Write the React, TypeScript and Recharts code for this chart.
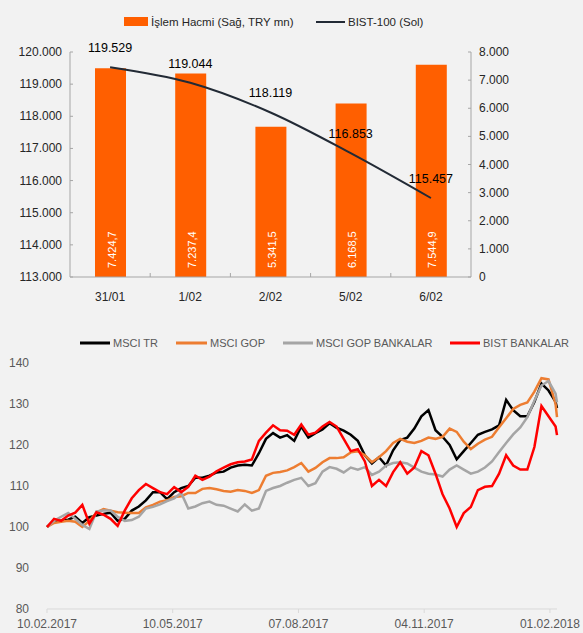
import React from 'react';
import { ComposedChart, Bar, Line, XAxis, YAxis, LabelList, LineChart } from 'recharts';

// ---------- top chart data ----------
const topCategories = ['31/01', '1/02', '2/02', '5/02', '6/02'];
const volumeValues = [7424.7, 7237.4, 5341.5, 6168.5, 7544.9];
const bistValues = [119529, 119044, 118119, 116853, 115457];
const leftTicks = [113000, 114000, 115000, 116000, 117000, 118000, 119000, 120000];
const rightTicks = [0, 1000, 2000, 3000, 4000, 5000, 6000, 7000, 8000];

// ---------- bottom chart data ----------
const seriesDays = [0, 5, 10, 15, 20, 25, 30, 35, 40, 45, 50, 55, 60, 65, 70, 75, 80, 85, 90, 95,
  100, 105, 110, 115, 120, 125, 130, 135, 140, 145, 150, 155, 160, 165, 170, 175, 180, 185, 190, 195,
  200, 205, 210, 215, 220, 225, 230, 235, 240, 245, 250, 255, 260, 265, 270, 275, 280, 285, 290, 295,
  300, 305, 310, 315, 320, 325, 330, 335, 340, 345, 350, 355, 360, 361];
const msciTr = [100, 101.5, 101.5, 101.8, 102.5, 101, 102.4, 102.8, 103.2, 103.5,
  101.5, 102, 104, 105, 106.5, 108.5, 108.5, 106.8, 108.5, 109.5,
  110, 112, 112, 112.5, 113.3, 113.5, 114.5, 115, 115.2, 115,
  118, 121.5, 122.9, 121.8, 122.4, 121, 124.5, 121.8, 122.9, 123.8,
  125.3, 124.2, 123.5, 122.5, 121, 117.5, 115.5, 117, 115, 118.7,
  121.2, 121.8, 124, 127, 128.5, 123.6, 122, 120, 116.5, 118.5,
  120.5, 122.5, 123.2, 123.8, 124.8, 131, 128.5, 127, 127, 130.5,
  135, 133.3, 130.5, 129];
const msciGop = [100, 101, 101.3, 101.5, 101.3, 100, 101.5, 103.5, 104.4, 104,
  103.6, 103.5, 103.4, 103.4, 104.8, 105.4, 106.2, 106.5, 107.3, 107.5,
  108.3, 108.3, 109.3, 109.5, 109.2, 108.8, 108.6, 109, 108.8, 108.3,
  109, 112.5, 113.2, 113.4, 113.8, 114.6, 115.6, 113.5, 114.4, 115.8,
  116.8, 116.8, 117, 118.2, 118.5, 117.5, 115.8, 117, 118.5, 120.5,
  121.5, 120.8, 120.5, 121, 121.8, 121.5, 122, 124, 123.2, 120.8,
  119, 120.3, 121.3, 122, 124.3, 126.5, 128.8, 129.8, 130.4, 133,
  136.3, 136, 130, 126.8];
const msciGopBank = [100, 101.5, 102.5, 103.4, 102, 100.5, 99.5, 103.8, 104, 104,
  102.5, 101.5, 101.7, 102.5, 104.5, 104.9, 105.5, 106.3, 107, 108.3,
  104.5, 105, 105.8, 106.2, 105.4, 105.2, 104.5, 103.8, 105.5, 104,
  104.5, 108.8, 109.5, 110, 110.8, 111.5, 112, 110, 110.7, 113.5,
  114.6, 114.2, 113.3, 114.5, 114, 114.6, 112.7, 113.5, 115, 115.6,
  115.8, 115.5, 114.5, 113.5, 113, 112.8, 112.3, 114, 115, 114,
  113, 113.5, 114.5, 116, 118.3, 120.5, 122.6, 124.3, 126.8, 130.8,
  134.5, 135.6, 132.5, 130.4];
const bistBank = [100, 102, 101.5, 102.8, 103.5, 105.4, 100.8, 103.6, 103, 102,
  100.3, 104, 107, 109, 110.5, 109.5, 108.5, 108, 109.7, 108.5,
  109.8, 112.5, 111.5, 112.3, 113.6, 114.5, 115.3, 115.8, 116, 116.5,
  121, 123, 124.8, 123.6, 123.5, 122.5, 125, 122.5, 123, 124.5,
  125.6, 124.5, 121.5, 118.5, 119, 116, 110, 111.5, 110, 113.4,
  115.8, 113, 114.5, 118.5, 117.5, 113, 108, 104.5, 100, 103.4,
  104.9, 109, 109.8, 110, 113, 117.5, 115, 114, 114, 119.5,
  129.5, 127, 124.5, 122.4];
const xTickDays = [0, 89, 178, 267, 356];
const xTickLabels = ['10.02.2017', '10.05.2017', '07.08.2017', '04.11.2017', '01.02.2018'];
const bottomYTicks = [80, 90, 100, 110, 120, 130, 140];

const seriesNames = ['MSCI TR', 'MSCI GOP', 'MSCI GOP BANKALAR', 'BIST BANKALAR'];
const topLegendNames = ['İşlem Hacmi (Sağ, TRY mn)', 'BIST-100 (Sol)'];

// ---------- derived tables ----------
const topData = topCategories.map((c, i) => ({ cat: c, vol: volumeValues[i], bist: bistValues[i] }));
const bottomData = seriesDays.map((d, i) => ({
  day: d, tr: msciTr[i], gop: msciGop[i], gopBank: msciGopBank[i], bist: bistBank[i],
}));

// ---------- styles ----------
const FONT = '"Liberation Sans", Arial, sans-serif';
const ORANGE_BAR = '#ff5f00';
const LINE_DARK = '#222a35';
const AXIS_GRAY = '#a6a6a6';
const TEXT_DARK = '#262626';
const TEXT_GRAY = '#595959';
const seriesColors = ['#000000', '#ed7d31', '#a5a5a5', '#ff0000'];

const fmtThousands = (n: number) => String(Math.round(n)).replace(/\B(?=(\d{3})+(?!\d))/g, '.');
const fmtVolume = (v: number) => {
  const [i, d] = v.toFixed(1).split('.');
  return fmtThousands(Number(i)) + ',' + d;
};

const LeftTick = (props: any) => {
  const { x, y, payload } = props;
  return (
    <g>
      <line x1={x + 8} x2={x + 11} y1={y} y2={y} stroke={AXIS_GRAY} />
      <text x={x} y={y} dy={4} textAnchor="end" fontSize={12} fill={TEXT_DARK} fontFamily={FONT}>
        {fmtThousands(payload.value)}
      </text>
    </g>
  );
};

const RightTick = (props: any) => {
  const { x, y, payload } = props;
  return (
    <g>
      <line x1={x - 8} x2={x - 11} y1={y} y2={y} stroke={AXIS_GRAY} />
      <text x={x} y={y} dy={4} textAnchor="start" fontSize={12} fill={TEXT_DARK} fontFamily={FONT}>
        {fmtThousands(payload.value)}
      </text>
    </g>
  );
};

const BottomCatTick = (props: any) => {
  const { x, y, payload, index } = props;
  const axisY = y - 8;
  return (
    <g>
      {index < topCategories.length - 1 && (
        <line x1={x + 40.1} x2={x + 40.1} y1={axisY} y2={axisY - 4} stroke={AXIS_GRAY} />
      )}
      <text x={x} y={y} dy={16} textAnchor="middle" fontSize={12} fill={TEXT_DARK} fontFamily={FONT}>
        {payload.value}
      </text>
    </g>
  );
};

const LineValueLabel = (props: any) => {
  const { x, y, value } = props;
  return (
    <text x={x} y={y - 15} textAnchor="middle" fontSize={12.5} fill="#000" fontFamily={FONT}>
      {fmtThousands(value)}
    </text>
  );
};

const BarValueLabel = (props: any) => {
  const vb = props.viewBox || {};
  const x = props.x ?? vb.x;
  const y = props.y ?? vb.y;
  const width = props.width ?? vb.width;
  const height = props.height ?? vb.height;
  const cx = x + width / 2 + 1;
  const by = y + height - 9;
  return (
    <text
      x={cx}
      y={by}
      transform={`rotate(-90 ${cx} ${by})`}
      textAnchor="start"
      dominantBaseline="central"
      fontSize={11}
      fill="#ffffff"
      fontFamily={FONT}
    >
      {fmtVolume(props.value)}
    </text>
  );
};

const bottomLegendLayout = [
  { x1: 80, x2: 110, tx: 113 },
  { x1: 176, x2: 207, tx: 210 },
  { x1: 283, x2: 313, tx: 316 },
  { x1: 450, x2: 480, tx: 483 },
];

export default function App() {
  return (
    <div
      style={{
        position: 'absolute',
        top: 0,
        left: 0,
        width: 583,
        height: 633,
        background: '#f2f2f2',
        fontFamily: FONT,
        overflow: 'hidden',
      }}
    >
      <div style={{ position: 'absolute', top: 0, left: 0 }}>
        <ComposedChart width={583} height={310} data={topData} margin={{ top: 52, right: 52, left: 0, bottom: 0 }}>
          <XAxis
            dataKey="cat"
            height={33}
            tickSize={0}
            tickMargin={8}
            axisLine={{ stroke: AXIS_GRAY }}
            tickLine={false}
            tick={<BottomCatTick />}
            interval={0}
          />
          <YAxis
            yAxisId="left"
            width={70}
            domain={[113000, 120000]}
            ticks={leftTicks}
            tickSize={0}
            tickMargin={8}
            tickLine={false}
            axisLine={{ stroke: AXIS_GRAY }}
            tick={<LeftTick />}
            interval={0}
          />
          <YAxis
            yAxisId="right"
            orientation="right"
            width={60}
            domain={[0, 8000]}
            ticks={rightTicks}
            tickSize={0}
            tickMargin={8}
            tickLine={false}
            axisLine={{ stroke: AXIS_GRAY }}
            tick={<RightTick />}
            interval={0}
          />
          <Bar yAxisId="right" dataKey="vol" fill={ORANGE_BAR} barSize={31} isAnimationActive={false}>
            <LabelList dataKey="vol" content={<BarValueLabel />} />
          </Bar>
          <Line
            yAxisId="left"
            dataKey="bist"
            type="monotone"
            stroke={LINE_DARK}
            strokeWidth={2}
            dot={false}
            isAnimationActive={false}
          >
            <LabelList dataKey="bist" content={<LineValueLabel />} />
          </Line>
        </ComposedChart>
      </div>

      <div style={{ position: 'absolute', top: 310, left: 0 }}>
        <LineChart width={583} height={323} data={bottomData} margin={{ top: 53, right: 26, left: 0, bottom: 0 }}>
          <XAxis
            dataKey="day"
            type="number"
            domain={[0, 361]}
            ticks={xTickDays}
            tickFormatter={(v: number) => xTickLabels[xTickDays.indexOf(v)]}
            height={24}
            tickSize={4}
            tickMargin={6}
            axisLine={{ stroke: '#d9d9d9' }}
            tickLine={{ stroke: '#d9d9d9' }}
            tick={{ fontSize: 12, fill: TEXT_GRAY, fontFamily: FONT }}
            interval={0}
          />
          <YAxis
            width={47}
            domain={[80, 140]}
            ticks={bottomYTicks}
            axisLine={false}
            tickLine={false}
            tickMargin={12}
            tick={{ fontSize: 12, fill: TEXT_GRAY, fontFamily: FONT }}
            interval={0}
          />
          <Line dataKey="tr" type="linear" stroke={seriesColors[0]} strokeWidth={2.5} dot={false} isAnimationActive={false} />
          <Line dataKey="gop" type="linear" stroke={seriesColors[1]} strokeWidth={2.5} dot={false} isAnimationActive={false} />
          <Line dataKey="gopBank" type="linear" stroke={seriesColors[2]} strokeWidth={2.5} dot={false} isAnimationActive={false} />
          <Line dataKey="bist" type="linear" stroke={seriesColors[3]} strokeWidth={2.5} dot={false} isAnimationActive={false} />
        </LineChart>
      </div>

      <svg width={583} height={633} style={{ position: 'absolute', top: 0, left: 0, pointerEvents: 'none' }}>
        <rect x={124} y={17} width={24} height={9} fill={ORANGE_BAR} />
        <text x={151} y={26} fontSize={11.5} fill={TEXT_DARK} fontFamily={FONT}>{topLegendNames[0]}</text>
        <line x1={316} x2={345} y1={22} y2={22} stroke={LINE_DARK} strokeWidth={2} />
        <text x={348} y={26} fontSize={11.5} fill={TEXT_DARK} fontFamily={FONT}>{topLegendNames[1]}</text>
        {seriesNames.map((name, i) => (
          <g key={name}>
            <line
              x1={bottomLegendLayout[i].x1}
              x2={bottomLegendLayout[i].x2}
              y1={343}
              y2={343}
              stroke={seriesColors[i]}
              strokeWidth={3}
            />
            <text x={bottomLegendLayout[i].tx} y={347} fontSize={11} fill={TEXT_GRAY} fontFamily={FONT}>
              {name}
            </text>
          </g>
        ))}
      </svg>
    </div>
  );
}
